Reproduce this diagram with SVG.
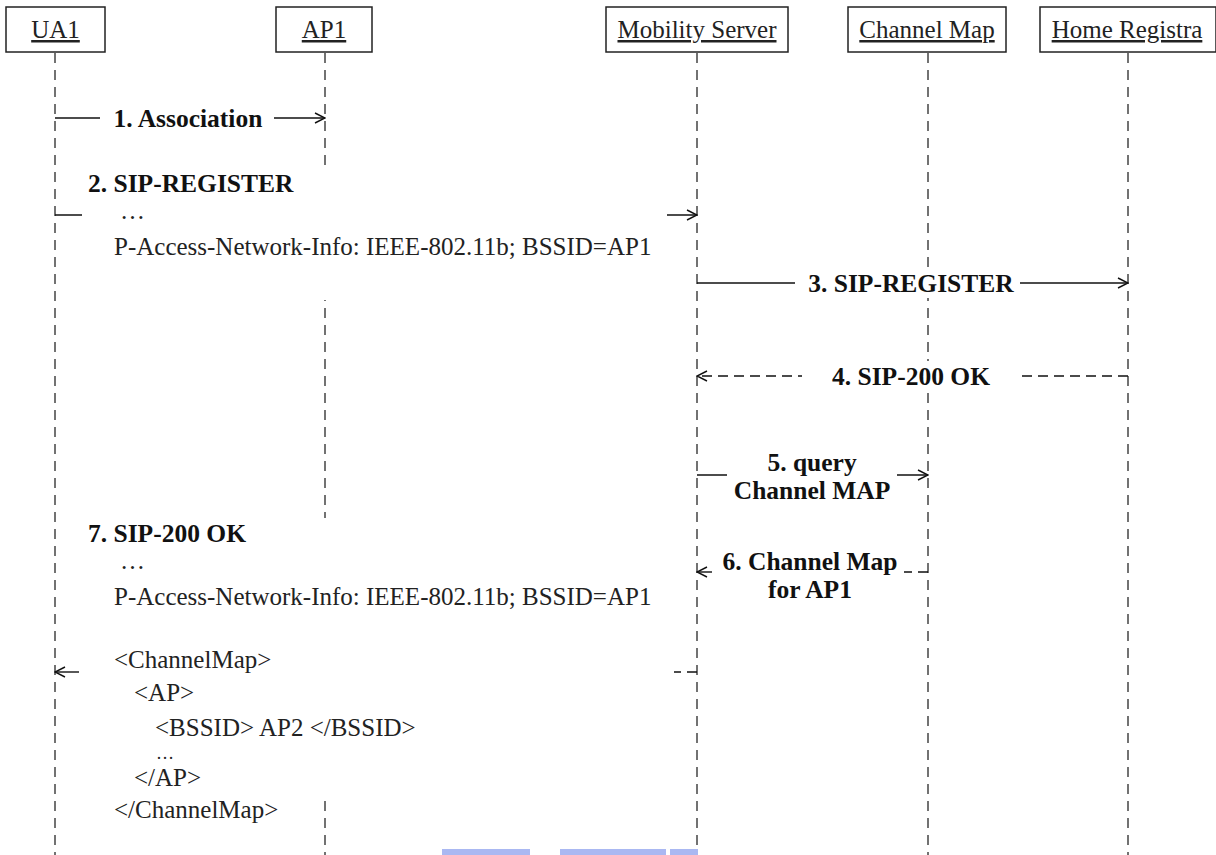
<svg xmlns="http://www.w3.org/2000/svg" width="1216" height="855" viewBox="0 0 1216 855">
<defs>
<style>
.box{fill:#fff;stroke:#222;stroke-width:1.5}
.hdr{font-family:"Liberation Serif","Times New Roman",serif;font-size:25px;fill:#222;text-anchor:middle;text-decoration:underline}
.life{stroke:#444;stroke-width:1.5;stroke-dasharray:10 7;fill:none}
.msg{stroke:#111;stroke-width:1.4;fill:none}
.arr{marker-end:url(#ah)}
.dash{stroke-dasharray:10 6}
.lbl{font-family:"Liberation Serif","Times New Roman",serif;font-size:25.5px;font-weight:bold;fill:#111}
.txt{font-family:"Liberation Serif","Times New Roman",serif;font-size:25px;fill:#222}
.ell{font-family:"Liberation Serif","Times New Roman",serif;font-size:18px;fill:#222}
.mask{fill:#fff}
</style>
<marker id="ah" viewBox="0 0 12 12" refX="11" refY="6" markerWidth="12" markerHeight="12" markerUnits="userSpaceOnUse" orient="auto">
<path d="M1,1 L11,6 L1,11" fill="none" stroke="#111" stroke-width="1.4"/>
</marker>
</defs>
<rect width="1216" height="855" fill="#fff"/>

<g id="lifelines">
<line class="life" x1="55" y1="53" x2="55" y2="855"/>
<line class="life" x1="325" y1="53" x2="325" y2="855"/>
<line class="life" x1="697" y1="53" x2="697" y2="855"/>
<line class="life" x1="928" y1="53" x2="928" y2="855"/>
<line class="life" x1="1128" y1="53" x2="1128" y2="855"/>
</g>

<g id="connectors">
<line class="msg arr" x1="55" y1="118" x2="325" y2="118"/>
<line class="msg arr" x1="55" y1="215" x2="697" y2="215"/>
<line class="msg arr" x1="697" y1="283" x2="1128" y2="283"/>
<line class="msg arr dash" x1="1128" y1="376" x2="697" y2="376"/>
<line class="msg arr" x1="697" y1="475" x2="928" y2="475"/>
<line class="msg dash" stroke-dasharray="9 5" x1="928" y1="572" x2="904" y2="572"/>
<line class="msg arr" x1="712" y1="572" x2="697" y2="572"/>
<line class="msg dash" stroke-dasharray="9 5" x1="697" y1="672" x2="674" y2="672"/>
<line class="msg arr" x1="79" y1="672" x2="55" y2="672"/>
</g>

<g id="masks">
<rect class="mask" x="100" y="104" width="174" height="28"/>
<rect class="mask" x="82" y="166" width="585" height="134"/>
<rect class="mask" x="795" y="268" width="225" height="30"/>
<rect class="mask" x="802" y="361" width="216" height="30"/>
<rect class="mask" x="727" y="445" width="170" height="60"/>
<rect class="mask" x="80" y="518" width="594" height="277"/>
</g>

<g id="ua1"><rect class="box" x="6" y="7" width="99" height="45"/><text class="hdr" x="55.5" y="38">UA1</text></g>
<g id="ap1"><rect class="box" x="276" y="7" width="96" height="45"/><text class="hdr" x="324" y="38">AP1</text></g>
<g id="mobility-server"><rect class="box" x="606" y="7" width="182" height="45"/><text class="hdr" x="697" y="38">Mobility Server</text></g>
<g id="channel-map"><rect class="box" x="848" y="7" width="158" height="45"/><text class="hdr" x="927" y="38">Channel Map</text></g>
<g id="home-registra"><rect class="box" x="1040" y="7" width="176" height="45"/><text class="hdr" x="1127" y="38">Home Registra</text></g>

<g id="m1"><text class="lbl" x="188" y="127" text-anchor="middle">1. Association</text></g>
<g id="m2">
<text class="lbl" x="88" y="192">2. SIP-REGISTER</text>
<text class="txt" x="120" y="219">…</text>
<text class="txt" x="114" y="255">P-Access-Network-Info: IEEE-802.11b; BSSID=AP1</text>
</g>
<g id="m3"><text class="lbl" x="911" y="292" text-anchor="middle">3. SIP-REGISTER</text></g>
<g id="m4"><text class="lbl" x="911" y="385" text-anchor="middle">4. SIP-200 OK</text></g>
<g id="m5">
<text class="lbl" x="812" y="471" text-anchor="middle">5. query</text>
<text class="lbl" x="812" y="499" text-anchor="middle">Channel MAP</text>
</g>
<g id="m6">
<text class="lbl" x="810" y="570" text-anchor="middle">6. Channel Map</text>
<text class="lbl" x="810" y="598" text-anchor="middle">for AP1</text>
</g>
<g id="m7">
<text class="lbl" x="88" y="542">7. SIP-200 OK</text>
<text class="txt" x="120" y="569">…</text>
<text class="txt" x="114" y="605">P-Access-Network-Info: IEEE-802.11b; BSSID=AP1</text>
<text class="txt" x="114" y="668">&lt;ChannelMap&gt;</text>
<text class="txt" x="134" y="701">&lt;AP&gt;</text>
<text class="txt" x="155" y="736">&lt;BSSID&gt; AP2 &lt;/BSSID&gt;</text>
<text class="ell" x="156" y="759">…</text>
<text class="txt" x="134" y="786">&lt;/AP&gt;</text>
<text class="txt" x="114" y="818">&lt;/ChannelMap&gt;</text>
</g>

<g id="artifact" fill="#aab8f2">
<rect x="442" y="849" width="88" height="6"/>
<rect x="560" y="849" width="106" height="6"/>
<rect x="670" y="849" width="28" height="6"/>
</g>
</svg>
